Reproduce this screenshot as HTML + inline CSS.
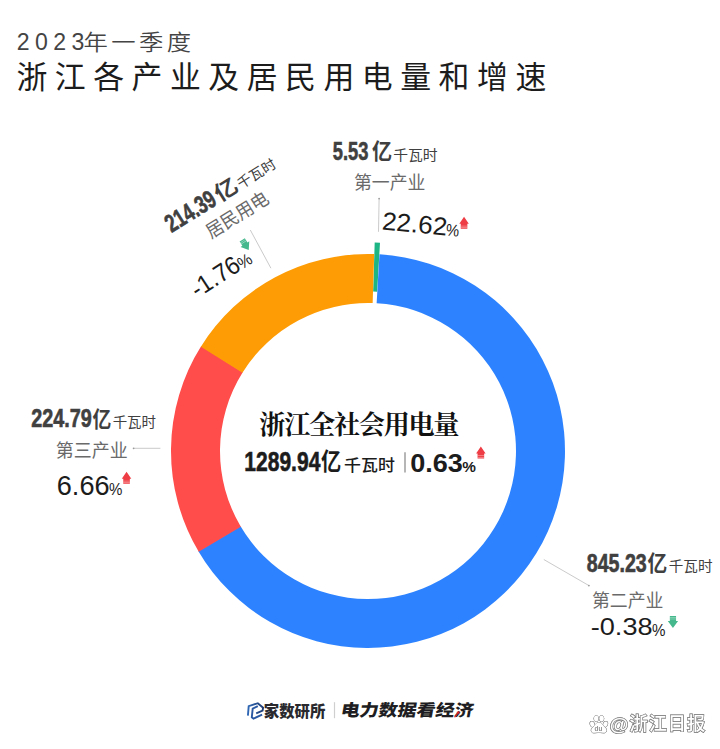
<!DOCTYPE html>
<html lang="zh-CN"><head><meta charset="utf-8"><title>浙江各产业及居民用电量和增速</title>
<style>html,body{margin:0;padding:0;background:#fff}svg{display:block}text{white-space:pre}</style></head>
<body>
<svg width="720" height="749" viewBox="0 0 720 749">
<rect width="720" height="749" fill="#fff"/>
<path d="M374.70 242.61A197.0 197.0 0 0 1 380.00 242.85L377.15 291.76A148.0 148.0 0 0 0 373.16 291.58Z" fill="#1CB583"/>
<path d="M379.49 254.34A197.0 197.0 0 1 1 198.38 551.19L240.57 526.27A148.0 148.0 0 1 0 376.63 303.25Z" fill="#2D83FF"/>
<path d="M198.73 551.78A197.0 197.0 0 0 1 201.24 346.12L242.72 372.21A148.0 148.0 0 0 0 240.83 526.71Z" fill="#FE4D4B"/>
<path d="M200.88 346.70A197.0 197.0 0 0 1 374.19 254.10L372.65 303.07A148.0 148.0 0 0 0 242.44 372.64Z" fill="#FE9C05"/>
<text id="sub_n" x="16.85" y="50.4" font-size="23.09" fill="#444" font-weight="400" font-family='"Liberation Sans","Noto Sans CJK SC",sans-serif' textLength="67.46" lengthAdjust="spacing" >2023</text>
<text id="sub_c" x="83.6" y="50.35" font-size="21.7" fill="#444" font-weight="350" font-family='"Liberation Sans","Noto Sans CJK SC",sans-serif' textLength="110.92" lengthAdjust="spacingAndGlyphs" letter-spacing="3" >年一季度</text>
<text id="title" x="16.45" y="87.95" font-size="30.9" fill="#1c1c1c" font-weight="400" font-family='"Liberation Sans","Noto Sans CJK SC",sans-serif' textLength="529.84" lengthAdjust="spacing" >浙江各产业及居民用电量和增速</text>
<text id="g_num" x="332.75" y="160.0" font-size="25.1" fill="#404040" font-weight="700" font-family='"Liberation Sans","Noto Sans CJK SC",sans-serif' textLength="35.65" lengthAdjust="spacingAndGlyphs" stroke="#404040" stroke-width="0.6">5.53</text>
<text id="g_yi" x="372.0" y="159.3" font-size="21.2" fill="#404040" font-weight="700" font-family='"Liberation Sans","Noto Sans CJK SC",sans-serif' textLength="20.09" lengthAdjust="spacingAndGlyphs" >亿</text>
<text id="g_unit" x="393.15" y="159.65" font-size="13.9" fill="#404040" font-weight="400" font-family='"Liberation Sans","Noto Sans CJK SC",sans-serif' textLength="44.49" lengthAdjust="spacingAndGlyphs" >千瓦时</text>
<text id="g_cat" x="354.0" y="189.0" font-size="18.6" fill="#6a6a6a" font-weight="400" font-family='"Liberation Sans","Noto Sans CJK SC",sans-serif' textLength="71.46" lengthAdjust="spacingAndGlyphs" >第一产业</text>
<text id="r_num" x="31.15" y="427.35" font-size="25.1" fill="#404040" font-weight="700" font-family='"Liberation Sans","Noto Sans CJK SC",sans-serif' textLength="60.54" lengthAdjust="spacingAndGlyphs" stroke="#404040" stroke-width="0.6">224.79</text>
<text id="r_yi" x="92.6" y="426.7" font-size="21.2" fill="#404040" font-weight="700" font-family='"Liberation Sans","Noto Sans CJK SC",sans-serif' textLength="18.8" lengthAdjust="spacingAndGlyphs" >亿</text>
<text id="r_unit" x="112.65" y="426.7" font-size="13.9" fill="#404040" font-weight="400" font-family='"Liberation Sans","Noto Sans CJK SC",sans-serif' textLength="43.42" lengthAdjust="spacingAndGlyphs" >千瓦时</text>
<text id="r_cat" x="55.85" y="456.9" font-size="18.6" fill="#6a6a6a" font-weight="400" font-family='"Liberation Sans","Noto Sans CJK SC",sans-serif' textLength="71.9" lengthAdjust="spacingAndGlyphs" >第三产业</text>
<text id="r_pct" x="56.75" y="494.75" font-size="27.18" fill="#1c1c1c" font-weight="400" font-family='"Liberation Sans","Noto Sans CJK SC",sans-serif' textLength="52.82" lengthAdjust="spacingAndGlyphs" >6.66</text>
<text id="r_pp" x="109.05" y="494.75" font-size="16.47" fill="#1c1c1c" font-weight="400" font-family='"Liberation Sans","Noto Sans CJK SC",sans-serif' textLength="13.38" lengthAdjust="spacingAndGlyphs" >%</text>
<text id="b_num" x="586.75" y="571.5" font-size="25.1" fill="#404040" font-weight="700" font-family='"Liberation Sans","Noto Sans CJK SC",sans-serif' textLength="60.02" lengthAdjust="spacingAndGlyphs" stroke="#404040" stroke-width="0.6">845.23</text>
<text id="b_yi" x="647.5" y="571.0" font-size="21.2" fill="#404040" font-weight="700" font-family='"Liberation Sans","Noto Sans CJK SC",sans-serif' textLength="19.69" lengthAdjust="spacingAndGlyphs" >亿</text>
<text id="b_unit" x="668.75" y="571.25" font-size="13.9" fill="#404040" font-weight="400" font-family='"Liberation Sans","Noto Sans CJK SC",sans-serif' textLength="43.78" lengthAdjust="spacingAndGlyphs" >千瓦时</text>
<text id="b_cat" x="592.0" y="606.5" font-size="18.6" fill="#6a6a6a" font-weight="400" font-family='"Liberation Sans","Noto Sans CJK SC",sans-serif' textLength="71.46" lengthAdjust="spacingAndGlyphs" >第二产业</text>
<text id="b_pct" x="590.75" y="635.25" font-size="24.72" fill="#1c1c1c" font-weight="400" font-family='"Liberation Sans","Noto Sans CJK SC",sans-serif' textLength="61.82" lengthAdjust="spacingAndGlyphs" >-0.38</text>
<text id="b_pp" x="652.0" y="635.95" font-size="16.69" fill="#1c1c1c" font-weight="400" font-family='"Liberation Sans","Noto Sans CJK SC",sans-serif' textLength="13.45" lengthAdjust="spacingAndGlyphs" >%</text>
<text id="c_title" x="259.3" y="433.9" font-size="26.11" fill="#111" font-weight="700" font-family='"Liberation Serif","Noto Serif CJK SC",serif' textLength="200.18" lengthAdjust="spacing" >浙江全社会用电量</text>
<text id="c_num" x="244.35" y="470.5" font-size="27.14" fill="#1c1c1c" font-weight="700" font-family='"Liberation Sans","Noto Sans CJK SC",sans-serif' textLength="76.0" lengthAdjust="spacingAndGlyphs" stroke="#1c1c1c" stroke-width="0.6">1289.94</text>
<text id="c_yi" x="320.95" y="470.25" font-size="23.86" fill="#1c1c1c" font-weight="700" font-family='"Liberation Sans","Noto Sans CJK SC",sans-serif' textLength="20.17" lengthAdjust="spacingAndGlyphs" >亿</text>
<text id="c_unit" x="344.1" y="470.7" font-size="16.21" fill="#1c1c1c" font-weight="500" font-family='"Liberation Sans","Noto Sans CJK SC",sans-serif' textLength="50.78" lengthAdjust="spacingAndGlyphs" >千瓦时</text>
<text id="c_pct" x="410.15" y="471.5" font-size="26.07" fill="#1c1c1c" font-weight="700" font-family='"Liberation Sans","Noto Sans CJK SC",sans-serif' textLength="52.69" lengthAdjust="spacingAndGlyphs" >0.63</text>
<text id="c_pp" x="462.3" y="471.5" font-size="14.78" fill="#1c1c1c" font-weight="700" font-family='"Liberation Sans","Noto Sans CJK SC",sans-serif' textLength="13.67" lengthAdjust="spacingAndGlyphs" >%</text>
<text id="f_brand" x="263.85" y="716.65" font-size="15.58" fill="#2a2a2e" font-weight="900" font-family='"Liberation Sans","Noto Sans CJK SC",sans-serif' textLength="61.44" lengthAdjust="spacingAndGlyphs" >家数研所</text>
<g id="og" transform="translate(172.2,233.2) rotate(-32)"><text id="o_num" x="-0.5" y="-0.5" font-size="25.1" fill="#404040" font-weight="700" font-family='"Liberation Sans","Noto Sans CJK SC",sans-serif' textLength="55.0" lengthAdjust="spacingAndGlyphs" stroke="#404040" stroke-width="0.6">214.39</text>
<text id="o_yi" x="56.95" y="-1.0" font-size="21.2" fill="#404040" font-weight="700" font-family='"Liberation Sans","Noto Sans CJK SC",sans-serif' textLength="23.37" lengthAdjust="spacingAndGlyphs" >亿</text>
<text id="o_unit" x="81.6" y="-0.75" font-size="13.9" fill="#404040" font-weight="400" font-family='"Liberation Sans","Noto Sans CJK SC",sans-serif' textLength="42.83" lengthAdjust="spacingAndGlyphs" >千瓦时</text>
<text id="o_cat" x="29.8" y="25.55" font-size="18.6" fill="#6a6a6a" font-weight="400" font-family='"Liberation Sans","Noto Sans CJK SC",sans-serif' textLength="70.08" lengthAdjust="spacingAndGlyphs" >居民用电</text></g>
<g id="op" transform="translate(211,290) rotate(-33)"><text id="o_pct" x="-15.95" y="-0.25" font-size="25.2" fill="#1c1c1c" font-weight="400" font-family='"Liberation Sans","Noto Sans CJK SC",sans-serif' textLength="53.3" lengthAdjust="spacingAndGlyphs" >-1.76</text>
<text id="o_pp" x="37.0" y="-0.05" font-size="16.78" fill="#1c1c1c" font-weight="400" font-family='"Liberation Sans","Noto Sans CJK SC",sans-serif' textLength="13.95" lengthAdjust="spacingAndGlyphs" >%</text><g transform="translate(48.3,-25) rotate(0)"><path d="M5.15 12L10.3 5H8.25V0H2.05V5H0Z" fill="#45B98D"/><rect x="2.05" y="1.1" width="6.2" height="0.55" fill="#fff" opacity="0.55"/><rect x="2.05" y="2.6" width="6.2" height="0.55" fill="#fff" opacity="0.6"/></g></g>
<g id="gp" transform="translate(382.6,229.8) rotate(5.3)"><text id="g_pct" x="-1.25" y="-0.25" font-size="25.28" fill="#1c1c1c" font-weight="400" font-family='"Liberation Sans","Noto Sans CJK SC",sans-serif' textLength="65.44" lengthAdjust="spacingAndGlyphs" >22.62</text>
<text id="g_pp" x="63.2" y="-0.05" font-size="16.88" fill="#1c1c1c" font-weight="400" font-family='"Liberation Sans","Noto Sans CJK SC",sans-serif' textLength="13.23" lengthAdjust="spacingAndGlyphs" >%</text></g>
<g id="fs" transform="translate(341.8,716.9) skewX(-10)"><text id="f_slogan" x="-2.0" y="-0.5" font-size="16.43" fill="#1e1e22" font-weight="900" font-family='"Liberation Sans","Noto Sans CJK SC",sans-serif' textLength="132.79" lengthAdjust="spacingAndGlyphs" >电力数据看经济</text></g>
<!-- leader lines -->
<g stroke="#c4c4c4" stroke-width="0.9" fill="none">
<line x1="379.1" y1="198.8" x2="378.5" y2="231.8"/>
<line x1="133.8" y1="448.3" x2="160.4" y2="448.3"/>
<line x1="543.8" y1="559.5" x2="588.8" y2="585.5"/>
<line x1="250.3" y1="230" x2="270.9" y2="268.2"/>
</g>
<g fill="#9a9a9a">
<circle cx="379.1" cy="198.6" r="0.9"/>
<circle cx="133.6" cy="448.3" r="0.9"/>
<circle cx="588.9" cy="585.6" r="0.9"/>
</g>
<line x1="405" y1="452.3" x2="405" y2="472.5" stroke="#858585" stroke-width="1.2"/>
<line x1="334.5" y1="702.2" x2="334.5" y2="718.2" stroke="#cfcfcf" stroke-width="1.2"/>
<g transform="translate(459.3,216.8) rotate(0)"><path d="M4.75 0L9.5 7H8.05V12H1.45V7H0Z" fill="#EE3D44"/><rect x="1.45" y="9" width="6.6" height="0.55" fill="#fff" opacity="0.6"/><rect x="1.45" y="10.55" width="6.6" height="0.55" fill="#fff" opacity="0.6"/></g>
<g transform="translate(121.8,471.8) rotate(0)"><path d="M4.75 0L9.5 7H8.05V12H1.45V7H0Z" fill="#EE3D44"/><rect x="1.45" y="9" width="6.6" height="0.55" fill="#fff" opacity="0.6"/><rect x="1.45" y="10.55" width="6.6" height="0.55" fill="#fff" opacity="0.6"/></g>
<g transform="translate(476.1,446.4) rotate(0)"><path d="M4.75 0L9.5 7H8.05V12H1.45V7H0Z" fill="#EE3D44"/><rect x="1.45" y="9" width="6.6" height="0.55" fill="#fff" opacity="0.6"/><rect x="1.45" y="10.55" width="6.6" height="0.55" fill="#fff" opacity="0.6"/></g>
<g transform="translate(667.8,616.1) rotate(0)"><path d="M5.15 12L10.3 5H8.25V0H2.05V5H0Z" fill="#45B98D"/><rect x="2.05" y="1.1" width="6.2" height="0.55" fill="#fff" opacity="0.55"/><rect x="2.05" y="2.6" width="6.2" height="0.55" fill="#fff" opacity="0.6"/></g>
<!-- brand icon -->
<defs><linearGradient id="lg" x1="0" y1="0" x2="1" y2="0"><stop offset="0" stop-color="#3068B6"/><stop offset="1" stop-color="#1F3C72"/></linearGradient></defs>
<g fill="none" stroke-width="1.9" stroke-linejoin="miter" transform="translate(0.4,0.7)">
<polyline points="247.5,715 248.3,705.5 257.4,702.5 262.7,707 262.2,709.8 255.8,712.7" stroke="url(#lg)"/>
<polyline points="257.4,705.4 252.3,708 251.4,716.7 253.1,717.9 261.7,713.9" stroke="#2A58A2"/>
</g>
<!-- red accent on slogan -->
<path d="M453.9 716.9L457.4 712.9L456.3 712.1L459.6 711.2L459.3 714.4L458.4 713.6L455.2 717.6Z" fill="#D8232A"/>
<!-- watermark -->
<g id="wm" fill="#fff" stroke="#7e7e7e" stroke-width="1" paint-order="stroke" style="filter:drop-shadow(0.4px 0.5px 0.5px rgba(0,0,0,0.35))">
<ellipse cx="592.3" cy="724.2" rx="2.1" ry="2.8" transform="rotate(-20 592.3 724.2)"/>
<ellipse cx="596.2" cy="718.6" rx="2.2" ry="3"/>
<ellipse cx="601.6" cy="718.6" rx="2.2" ry="3"/>
<ellipse cx="605.4" cy="724.2" rx="2.1" ry="2.8" transform="rotate(20 605.4 724.2)"/>
<path d="M598.9 722.6c2.6 0 3.6 2.2 5.4 4.1c1.6 1.6 2.6 2.6 2.2 4.4c-0.4 1.7-2 1.9-3.600 1.700c-1.600-0.200-2.800-0.300-4-0.300s-2.400 0.100-4 0.300c-1.600 0.200-3.200 0-3.600-1.700c-0.400-1.800 0.600-2.800 2.200-4.400c1.800-1.900 2.800-4.100 5.400-4.100z"/>
<text x="594.6" y="731.2" font-size="6.4" font-weight="700" fill="#8f8f8f" stroke="none" font-family='"Liberation Sans",sans-serif'>du</text>
<text id="wm_at" x="609.8" y="730.6" font-size="19" font-weight="700" stroke-width="1.4" font-family='"Liberation Sans","Noto Sans CJK SC",sans-serif' textLength="18.6" lengthAdjust="spacingAndGlyphs">@</text>
<text id="wm_t" x="629.6" y="730" font-size="18.2" font-weight="500" stroke-width="1.4" font-family='"Liberation Sans","Noto Sans CJK SC",sans-serif' textLength="75.6" lengthAdjust="spacing">浙江日报</text>
</g>

</svg>
</body></html>
